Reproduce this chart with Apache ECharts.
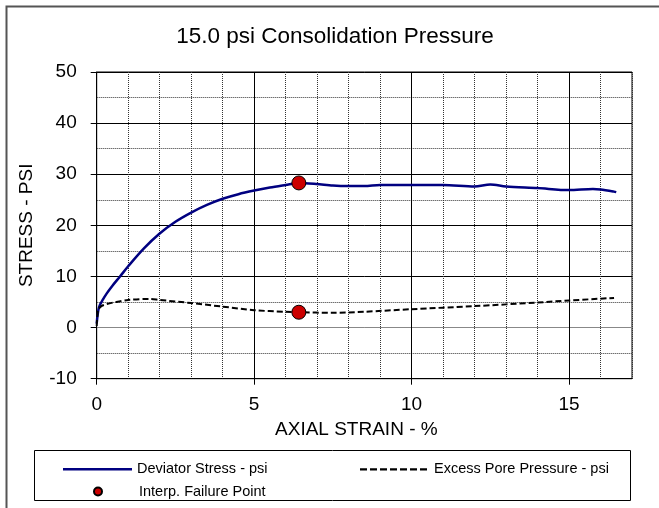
<!DOCTYPE html>
<html>
<head>
<meta charset="utf-8">
<script src="https://cdn.jsdelivr.net/npm/echarts@6/dist/echarts.min.js"></script>
<style>html,body{margin:0;padding:0;background:#fff;}#c{width:659px;height:508px;}</style>
</head>
<body>
<div id="c"></div>
<script>
var titleText = '15.0 psi Consolidation Pressure';
var xName = 'AXIAL STRAIN - %';
var yName = 'STRESS - PSI';
var devName = 'Deviator Stress - psi';
var poreName = 'Excess Pore Pressure - psi';
var failName = 'Interp. Failure Point';
var xTicks = [0, 5, 10, 15];

var devStrain = [0, 0.03, 0.08, 0.2, 0.32, 0.5, 0.74, 1.0, 1.5, 2.0, 2.5, 3.0, 3.5, 4.0, 4.5, 5.0, 5.5, 6.0, 6.42, 6.98, 7.5, 7.99, 8.5, 9.0, 10.0, 11.0, 12.0, 12.5, 13.0, 14.0, 15.0, 15.76, 16.0, 16.43, 16.5];
var devStress = [0.8, 2.5, 4.1, 5.5, 6.7, 8.2, 10.0, 12.0, 15.5, 18.4, 20.7, 22.5, 24.0, 25.2, 26.1, 26.8, 27.4, 27.9, 28.3, 28.1, 27.8, 27.7, 27.7, 27.9, 27.9, 27.9, 27.6, 28.0, 27.6, 27.3, 26.9, 27.1, 27.0, 26.6, 26.5];

var poreStrain = [0, 0.02, 0.05, 0.15, 0.32, 0.6, 1.0, 1.69, 2.0, 3.0, 4.0, 5.0, 5.97, 6.42, 7.5, 8.5, 10.0, 12.0, 14.0, 15.0, 16.43];
var porePress = [0.3, 2.2, 3.5, 4.2, 4.6, 5.0, 5.4, 5.6, 5.4, 4.8, 4.1, 3.4, 3.1, 3.0, 2.9, 3.1, 3.6, 4.2, 4.9, 5.3, 5.8];

var failStrain = [6.42, 6.42];
var failStress = [28.3, 3.0];

function zip(a, b) { return a.map(function (v, i) { return [v, b[i]]; }); }

var FONT = 'Liberation Sans, Arial, sans-serif';
var legendText = {fontSize: 14.5, color: '#000', fontFamily: FONT};
var solidIcon = 'path://M0,0H69V2.5H0Z';
var dashIcon = 'path://M0,0h7v2.2h-7zM10,0h7v2.2h-7zM20,0h7v2.2h-7zM30,0h7v2.2h-7zM40,0h7v2.2h-7zM50,0h7v2.2h-7zM60,0h7v2.2h-7z';
var chart = echarts.init(document.getElementById('c'), null, {renderer: 'canvas'});
chart.setOption({
  animation: false,
  backgroundColor: '#fff',
  grid: {left: 96.7, right: 27, top: 72, bottom: 129.3, show: true, borderColor: '#000', borderWidth: 1},
  graphic: [
    {type: 'rect', shape: {x: 6.5, y: 6.5, width: 700, height: 600}, style: {fill: 'none', stroke: '#555', lineWidth: 2}, z: 100},
    {type: 'rect', shape: {x: 34.5, y: 450.5, width: 596, height: 50}, style: {fill: '#fff', stroke: '#000', lineWidth: 1}, z: -1},
    {type: 'text', x: 335, y: 37, style: {text: titleText, font: '22.5px ' + FONT, fill: '#000', textAlign: 'center', textVerticalAlign: 'middle'}}
  ],
  xAxis: [
    {type: 'value', min: 0, max: 17, interval: 1,
      axisLine: {show: false}, axisTick: {show: false}, axisLabel: {show: false},
      splitLine: {show: true, lineStyle: {color: '#333', width: 1, type: [1, 1]}}},
    {type: 'value', min: 0, max: 17, interval: 5, position: 'bottom',
      axisLine: {show: true, onZero: false, lineStyle: {color: '#000', width: 1}},
      axisTick: {show: true, inside: false, length: 6, lineStyle: {color: '#000'}, customValues: xTicks},
      axisLabel: {margin: 17, fontSize: 19, color: '#000', fontFamily: FONT, customValues: xTicks},
      splitLine: {show: true, lineStyle: {color: '#000', width: 1}},
      name: xName, nameLocation: 'middle', nameGap: 42,
      nameTextStyle: {fontSize: 19, color: '#000', fontFamily: FONT, padding: [0, 16, 0, 0]}}
  ],
  yAxis: [
    {type: 'value', min: -10, max: 50, interval: 5,
      axisLine: {show: false}, axisTick: {show: false}, axisLabel: {show: false},
      splitLine: {show: true, lineStyle: {color: '#333', width: 1, type: [1, 1]}}},
    {type: 'value', min: -10, max: 50, interval: 10, position: 'left',
      axisLine: {show: true, onZero: false, lineStyle: {color: '#000', width: 1}},
      axisTick: {show: true, inside: false, length: 6, lineStyle: {color: '#000'}},
      axisLabel: {margin: 20, fontSize: 19, color: '#000', fontFamily: FONT},
      splitLine: {show: true, lineStyle: {color: ['#000', '#888', '#000', '#000', '#000', '#000', '#000'], width: 1}},
      name: yName, nameLocation: 'middle', nameGap: 60,
      nameTextStyle: {fontSize: 19, color: '#000', fontFamily: FONT}}
  ],
  legend: [
    {data: [{name: devName, icon: solidIcon}], left: 63, top: 461.75, padding: 0, itemWidth: 69, itemHeight: 2.5, itemGap: 0,
      textStyle: legendText, selectedMode: false},
    {data: [{name: poreName, icon: dashIcon}], left: 360, top: 461.9, padding: 0, itemWidth: 67, itemHeight: 2.2, itemGap: 0,
      textStyle: {fontSize: 14.5, color: '#000', fontFamily: FONT, padding: [0, 0, 0, 2]}, selectedMode: false},
    {data: [{name: failName, icon: 'circle'}], left: 93, top: 484, padding: 0, itemWidth: 8, itemHeight: 8, itemGap: 0,
      textStyle: {fontSize: 14.5, color: '#000', fontFamily: FONT, padding: [0, 0, 0, 32]}, selectedMode: false}
  ],
  series: [
    {name: devName, type: 'line', xAxisIndex: 0, yAxisIndex: 0, data: zip(devStrain, devStress),
      symbol: 'none', smooth: 0.3, lineStyle: {color: '#000080', width: 2.5}, itemStyle: {color: '#000080'}, z: 3},
    {name: poreName, type: 'line', xAxisIndex: 0, yAxisIndex: 0, data: zip(poreStrain, porePress),
      symbol: 'none', smooth: 0.3, lineStyle: {color: '#000', width: 2, type: [6, 3]}, itemStyle: {color: '#000'}, z: 3},
    {name: failName, type: 'scatter', xAxisIndex: 0, yAxisIndex: 0, data: zip(failStrain, failStress),
      symbol: 'circle', symbolSize: 14, itemStyle: {color: '#CC0000', borderColor: '#000', borderWidth: 1, opacity: 1}, z: 4}
  ]
});
</script>
</body>
</html>
